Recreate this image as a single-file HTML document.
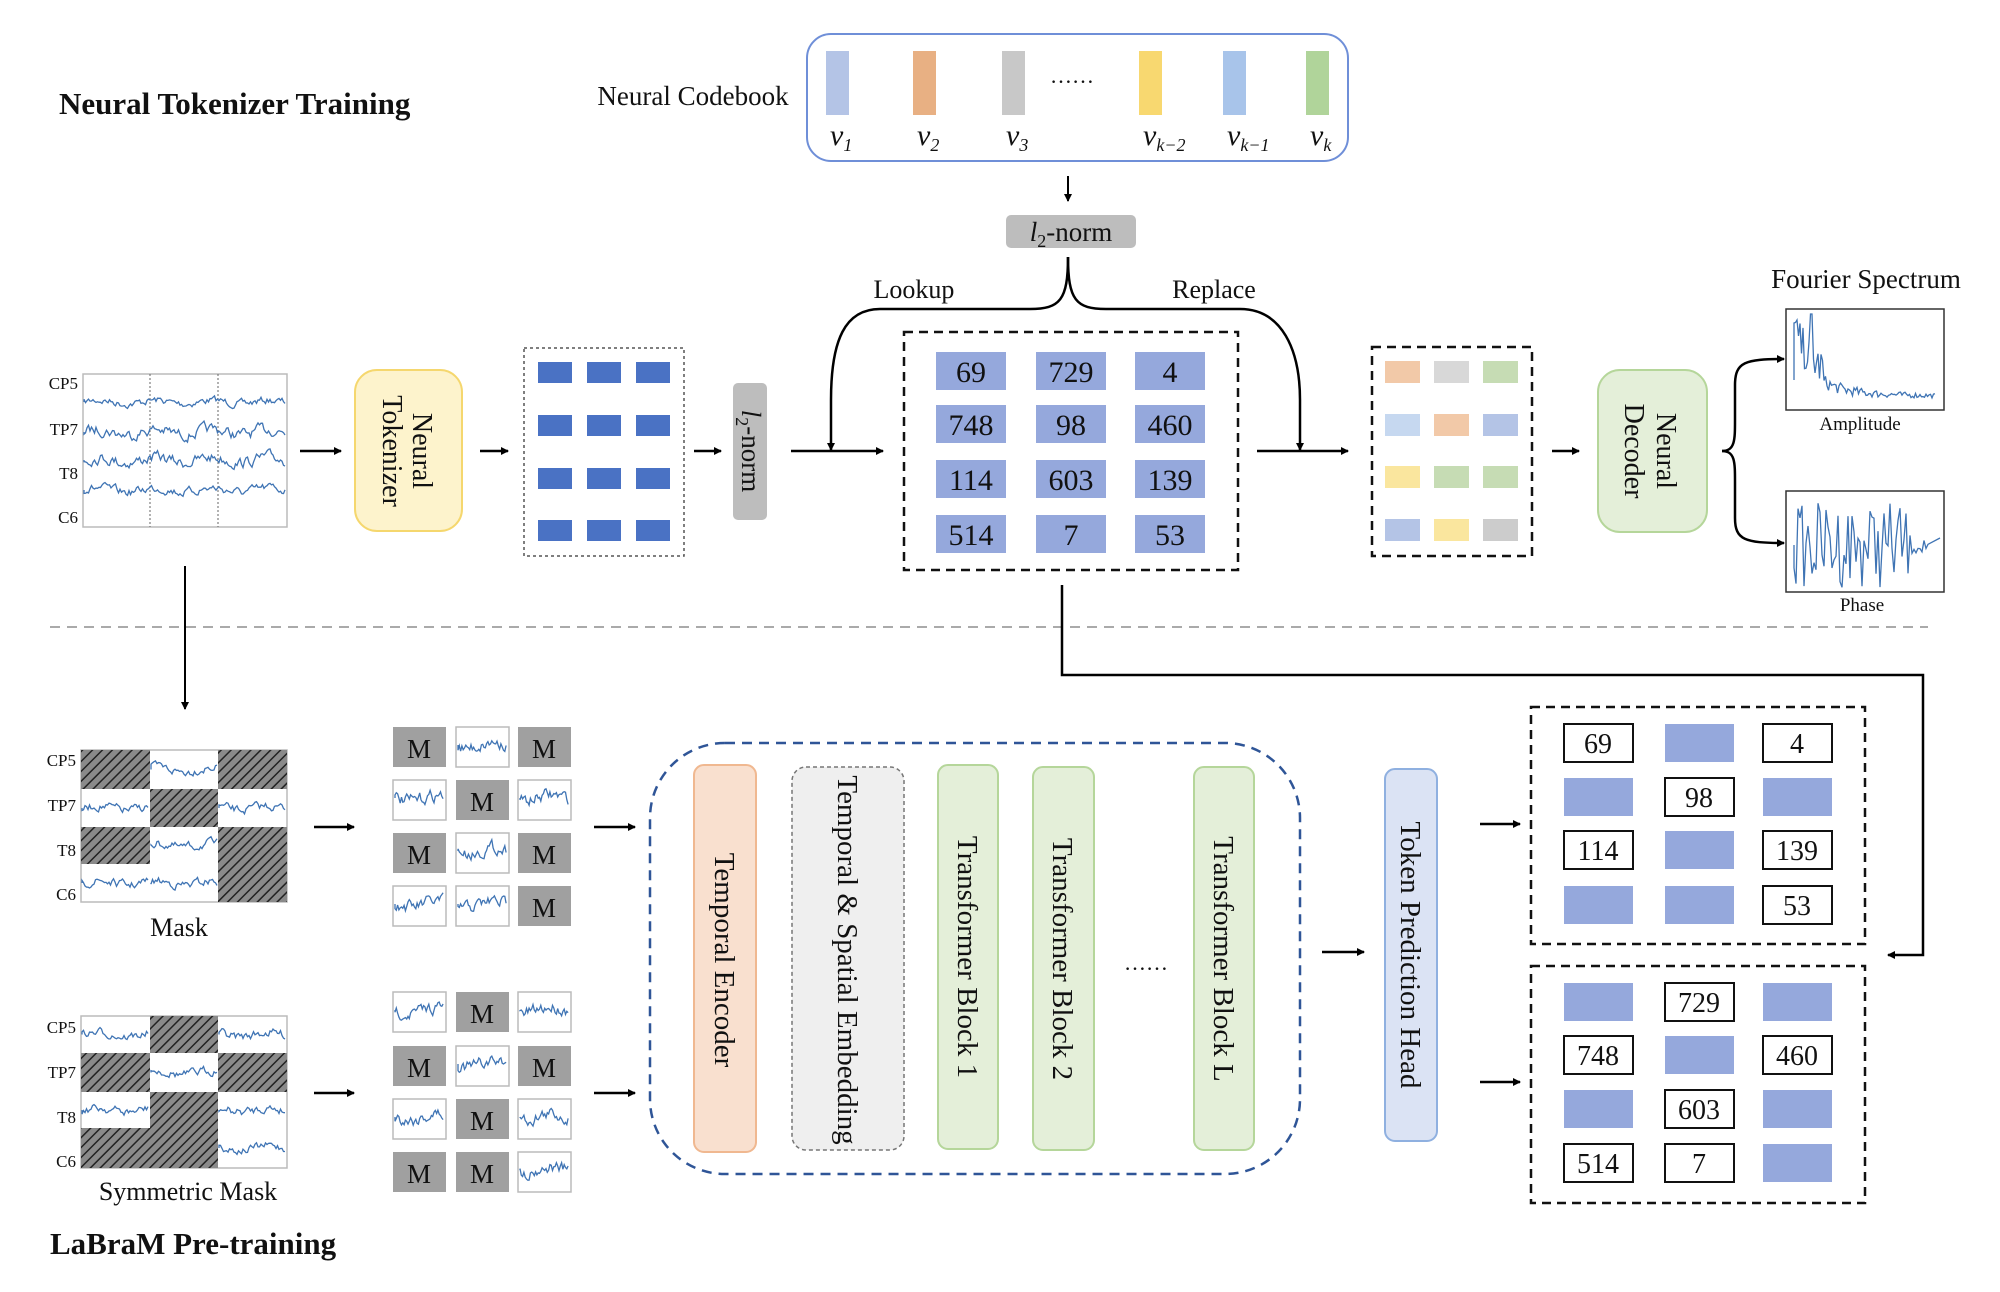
<!DOCTYPE html>
<html><head><meta charset="utf-8"><style>
html,body{margin:0;padding:0;background:#fff}
svg{display:block}
text{font-family:"Liberation Serif",serif;fill:#111}
</style></head><body>
<svg id="s" width="2000" height="1292" viewBox="0 0 2000 1292" xmlns="http://www.w3.org/2000/svg">
<defs>
<marker id="ah" markerWidth="8" markerHeight="8" refX="7" refY="4" orient="auto" markerUnits="userSpaceOnUse"><path d="M0,0 L8,4 L0,8 z" fill="#000"/></marker>
<pattern id="hatch" width="7" height="7" patternUnits="userSpaceOnUse" patternTransform="rotate(45)"><rect width="7" height="7" fill="#8a8a8a"/><line x1="0" y1="0" x2="0" y2="7" stroke="#222" stroke-width="3"/></pattern>
</defs>
<g id="g"></g>
</svg>
<script>
var S='';
function r(x,y,w,h,f,st,extra){S+='<rect x="'+x+'" y="'+y+'" width="'+w+'" height="'+h+'" fill="'+f+'" '+(st?'stroke="'+st+'" ':'')+(extra||'')+'/>';}
function t(x,y,s,size,extra){S+='<text x="'+x+'" y="'+y+'" font-size="'+(size||28)+'" '+(extra||'text-anchor="middle"')+'>'+s+'</text>';}
function arr(x1,y1,x2,y2,w){S+='<line x1="'+x1+'" y1="'+y1+'" x2="'+x2+'" y2="'+y2+'" stroke="#000" stroke-width="'+(w||2.5)+'" marker-end="url(#ah)"/>';}
var seed=7;function rnd(){seed=(seed*16807)%2147483647;return seed/2147483647;}
function wave(x0,x1,yc,amp,step){var d='M'+x0+','+yc;var v=0;for(var x=x0;x<=x1;x+=step||1.5){v=v*0.6+(rnd()-0.5)*amp;d+=' L'+x.toFixed(1)+','+(yc+v+Math.sin(x/9)*amp*0.3).toFixed(1);}S+='<path d="'+d+'" fill="none" stroke="#3f74b4" stroke-width="1.3"/>';}
function vt(cx,cy,lines,size,gap){S+='<text transform="translate('+cx+','+cy+') rotate(90)" font-size="'+size+'" text-anchor="middle">';for(var i=0;i<lines.length;i++){S+='<tspan x="0" dy="'+(i==0?(-(lines.length-1)*gap/2+size*0.35):gap)+'">'+lines[i]+'</tspan>';}S+='</text>';}

// titles
t(59,114,'Neural Tokenizer Training',31,'font-weight="bold"');
t(50,1254,'LaBraM Pre-training',31,'font-weight="bold"');
// codebook
t(693,105,'Neural Codebook',27);
r(807,34,541,127,'none','#6f8fd8','rx="24" stroke-width="2"');
var cb=[[826,'#b4c4e6','v<tspan font-size="18" dy="6">1</tspan>'],[913,'#e8b083','v<tspan font-size="18" dy="6">2</tspan>'],[1002,'#c8c8c8','v<tspan font-size="18" dy="6">3</tspan>'],[1139,'#f8d870','v<tspan font-size="18" dy="6">k−2</tspan>'],[1223,'#a8c4ea','v<tspan font-size="18" dy="6">k−1</tspan>'],[1306,'#b0d49a','v<tspan font-size="18" dy="6">k</tspan>']];
cb.forEach(function(c){r(c[0],51,23,64,c[1]);S+='<text x="'+(c[0]+4)+'" y="145" font-size="30" font-style="italic" text-anchor="start">'+c[2]+'</text>';});
t(1072,83,'……',22);
arr(1068,176,1068,201,2);
r(1006,215,130,33,'#bdbdbd',null,'rx="5"');
S+='<text x="1071" y="241" font-size="27" text-anchor="middle"><tspan font-style="italic">l</tspan><tspan font-size="18" dy="6">2</tspan><tspan dy="-6">-norm</tspan></text>';
// brace top
S+='<path d="M1068,257 C1068,300 1060,309 1030,309 L880,309 C845,309 831,340 831,400 L831,450" fill="none" stroke="#000" stroke-width="2.5" marker-end="url(#ah)"/>';
S+='<path d="M1068,257 C1068,300 1076,309 1106,309 L1240,309 C1282,309 1300,350 1300,400 L1300,450" fill="none" stroke="#000" stroke-width="2.5" marker-end="url(#ah)"/>';
t(914,298,'Lookup',26);t(1214,298,'Replace',26);
t(1866,288,'Fourier Spectrum',27);

// EEG plot top
function eegPlot(y0,y1,labels){r(83,y0,204,y1-y0,'#fff','#bbb','stroke-width="1.5"');}
r(83,374,204,153,'#fff','#bbb','stroke-width="1.5"');
S+='<line x1="150" y1="374" x2="150" y2="527" stroke="#666" stroke-dasharray="2,2"/><line x1="218" y1="374" x2="218" y2="527" stroke="#666" stroke-dasharray="2,2"/>';
[[383,'CP5'],[429,'TP7'],[473,'T8'],[517,'C6']].forEach(function(l){t(78,l[0]+6,l[1],17,'text-anchor="end"');});
wave(84,286,402,6);wave(84,286,432,9);wave(84,286,460,9);wave(84,286,490,7);
arr(300,451,341,451);
r(355,370,107,161,'#fdf3cc','#f5d76e','rx="22" stroke-width="2"');
vt(408,451,['Neural','Tokenizer'],28,30);
arr(480,451,508,451);
r(524,348,160,208,'none','#555','stroke-dasharray="3,3" stroke-width="1.5"');
[538,587,636].forEach(function(x){[362,415,468,520].forEach(function(y){r(x,y,34,21,'#4a72c4');});});
arr(694,451,721,451);
r(733,383,34,137,'#bdbdbd',null,'rx="5"');
S+='<text transform="translate(742,451) rotate(90)" font-size="27" text-anchor="middle"><tspan font-style="italic">l</tspan><tspan font-size="18" dy="6">2</tspan><tspan dy="-6">-norm</tspan></text>';
arr(791,451,883,451);
// token grid
r(904,332,334,238,'none','#111','stroke-dasharray="9,6" stroke-width="2.5"');
var nums=[['69','729','4'],['748','98','460'],['114','603','139'],['514','7','53']];
var cx=[936,1036,1135],ry=[352,405,460,515];
for(var i=0;i<4;i++)for(var j=0;j<3;j++){r(cx[j],ry[i],70,38,'#95a8dc');t(cx[j]+35,ry[i]+30,nums[i][j],30);}
arr(1257,451,1348,451);
r(1372,347,160,209,'none','#111','stroke-dasharray="9,6" stroke-width="2.5"');
var cols=[['#f2c9a8','#d8d8d8','#c6dcb4'],['#c6d8f0','#f2c9a8','#b4c4e6'],['#fae69e','#c6dcb4','#c6dcb4'],['#b4c4e6','#fae69e','#cccccc']];
var c2=[1385,1434,1483],r2=[361,414,466,519];
for(i=0;i<4;i++)for(j=0;j<3;j++)r(c2[j],r2[i],35,22,cols[i][j]);
arr(1552,451,1579,451);
r(1598,370,109,162,'#e4efd9','#b5d69a','rx="22" stroke-width="2"');
vt(1651,451,['Neural','Decoder'],28,32);
S+='<path d="M1722,451 C1735,451 1735,440 1735,420 L1735,385 C1735,362 1745,359 1784,359" fill="none" stroke="#000" stroke-width="2.5" marker-end="url(#ah)"/>';
S+='<path d="M1722,451 C1735,451 1735,462 1735,482 L1735,518 C1735,540 1745,543 1784,543" fill="none" stroke="#000" stroke-width="2.5" marker-end="url(#ah)"/>';
r(1786,309,158,101,'#fff','#333','stroke-width="1.5"');
(function(){var d='M1794,380';for(var x=1794;x<1936;x+=1.5){var k=(x-1794);var base=398-Math.max(0,50*Math.exp(-k/18));var y=base-(rnd())*(k<30?40:18*Math.exp(-k/60)+3);if(Math.abs(k-17)<2)y=314;d+=' L'+x.toFixed(1)+','+y.toFixed(1);}S+='<path d="'+d+'" fill="none" stroke="#3f74b4" stroke-width="1.3"/>';})();
t(1860,430,'Amplitude',19);
r(1786,491,158,101,'#fff','#333','stroke-width="1.5"');
(function(){var d='M1794,545';for(var x=1794;x<1930;x+=2){var y=545+(rnd()-0.5)*(x<1910?85:20);d+=' L'+x+','+y.toFixed(1);}d+=' L1940,538';S+='<path d="'+d+'" fill="none" stroke="#3f74b4" stroke-width="1.3"/>';})();
t(1862,611,'Phase',19);
// separator
S+='<line x1="50" y1="627" x2="1928" y2="627" stroke="#aaa" stroke-width="2" stroke-dasharray="10,7"/>';
// connectors
arr(185,566,185,709,2);
S+='<polyline points="1062,585 1062,675 1923,675 1923,955 1888,955" fill="none" stroke="#000" stroke-width="2.5" marker-end="url(#ah)"/>';

// masked plots
function maskPlot(y0,rows,pat,labels,ly){var xs=[81,150,218,287];r(81,y0,206,rows[4]-y0,'#fff','#bbb','stroke-width="1.5"');
for(var i=0;i<4;i++){for(var j=0;j<3;j++){if(pat[i][j]){r(xs[j],rows[i],xs[j+1]-xs[j],rows[i+1]-rows[i],'url(#hatch)');}else{wave(xs[j]+1,xs[j+1]-1,(rows[i]+rows[i+1])/2,7);}}}
for(i=0;i<4;i++)t(76,ly[i]+6,labels[i],17,'text-anchor="end"');}
maskPlot(750,[750,789,827,864,902],[[1,0,1],[0,1,0],[1,0,1],[0,0,1]],['CP5','TP7','T8','C6'],[760,805,850,894]);
t(179,936,'Mask',26);
maskPlot(1016,[1016,1053,1092,1128,1168],[[0,1,0],[1,0,1],[0,1,0],[1,1,0]],['CP5','TP7','T8','C6'],[1027,1072,1117,1161]);
t(188,1200,'Symmetric Mask',26);
arr(314,827,354,827);arr(314,1093,354,1093);
function tiles(rows,pat){var xs=[393,456,518];for(var i=0;i<4;i++)for(var j=0;j<3;j++){if(pat[i][j]){r(xs[j],rows[i],53,40,'#a0a0a0');t(xs[j]+26,rows[i]+31,'M',27);}else{r(xs[j],rows[i],53,40,'#fff','#bbb','stroke-width="1.5"');wave(xs[j]+2,xs[j]+51,rows[i]+18,10,1.3);}}}
tiles([727,780,833,886],[[1,0,1],[0,1,0],[1,0,1],[0,0,1]]);
tiles([992,1046,1099,1152],[[0,1,0],[1,0,1],[0,1,0],[1,1,0]]);
arr(594,827,635,827);arr(594,1093,635,1093);
// big dashed container
r(650,743,650,431,'none','#2f5597','rx="75" stroke-dasharray="10,7" stroke-width="2.5"');
r(694,765,62,387,'#f9e0cf','#f0b890','rx="10" stroke-width="2"');vt(725,960,['Temporal Encoder'],29,0);
r(792,767,112,383,'#efefef','#777','rx="14" stroke-dasharray="4,3" stroke-width="1.5"');vt(848,960,['Temporal &amp; Spatial Embedding'],29,0);
r(938,765,60,384,'#e4efd9','#b5d69a','rx="10" stroke-width="2"');vt(968,957,['Transformer Block 1'],29,0);
r(1033,767,61,383,'#e4efd9','#b5d69a','rx="10" stroke-width="2"');vt(1063,959,['Transformer Block 2'],29,0);
t(1146,970,'……',22);
r(1194,767,60,383,'#e4efd9','#b5d69a','rx="10" stroke-width="2"');vt(1224,959,['Transformer Block L'],29,0);
arr(1322,952,1364,952);
r(1385,769,52,372,'#dbe3f4','#8fb0e0','rx="10" stroke-width="2"');vt(1411,955,['Token Prediction Head'],29,0);
arr(1480,824,1520,824);arr(1480,1082,1520,1082);
function outGrid(y0,y1,rows,pat){r(1531,y0,334,y1-y0,'none','#111','stroke-dasharray="9,6" stroke-width="2.5"');var xs=[1564,1665,1763];for(var i=0;i<4;i++)for(var j=0;j<3;j++){var v=pat[i][j];if(v===''){r(xs[j],rows[i],69,38,'#95a8dc');}else{r(xs[j],rows[i],69,38,'#fff','#111','stroke-width="2"');t(xs[j]+34,rows[i]+29,v,28);}}}
outGrid(707,944,[724,778,831,886],[['69','','4'],['','98',''],['114','','139'],['','','53']]);
outGrid(966,1203,[983,1036,1090,1144],[['','729',''],['748','','460'],['','603',''],['514','7','']]);
document.getElementById('g').innerHTML=S;
</script>
</body></html>
